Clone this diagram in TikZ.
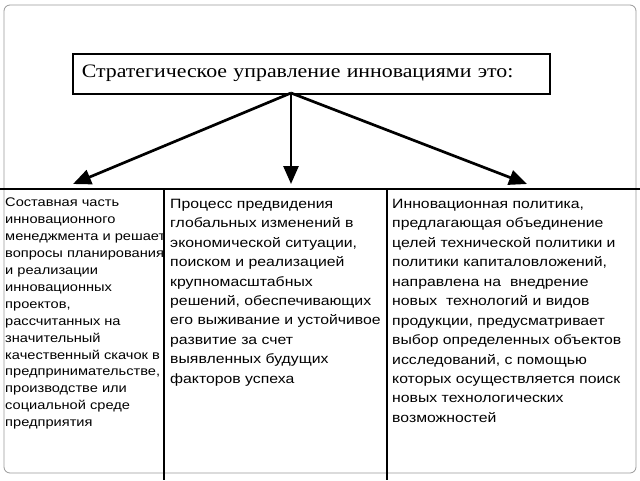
\documentclass[tikz,border=0pt]{standalone}
\usepackage{fontspec}
\setmainfont{Liberation Serif}
\setsansfont{Liberation Sans}
\newfontfamily\widesans[FakeStretch=1.17]{Liberation Sans}
\newfontfamily\wideserif[FakeStretch=1.15]{Liberation Serif}
\usetikzlibrary{arrows.meta}

\begin{document}
\begin{tikzpicture}[x=1pt, y=-1pt,
    titlebox/.style={draw, line width=1.5pt, anchor=north west, minimum width=477pt,
      minimum height=40pt, inner xsep=9pt, text width=459pt, align=left,
      font=\wideserif\fontsize{19}{23}\selectfont},
    coltext/.style={anchor=north west, inner sep=0pt, align=left},
    arr/.style={line width=2.7pt, -{Triangle[length=18pt, width=15pt]}}]

    \useasboundingbox (0,0) rectangle (640,480);

    % frame and columns
    \draw[gray!80, line width=0.8pt, rounded corners=6pt] (4,5) rectangle (636,473);
    \draw[line width=1.4pt] (0,189) -- (640,189);
    \foreach \x in {164,387}
      \draw[line width=1.4pt] (\x,189) -- (\x,480);

    \node[titlebox] (title) at (72,53) {Стратегическое управление инновациями это:};

    \coordinate (apex) at (291,93);
    \coordinate (tipA) at (73,184);
    \coordinate (tipB) at (291,184);
    \coordinate (tipC) at (527,184);
    \foreach \t in {tipA,tipB,tipC}
      \draw[arr] (apex) -- (\t);

    \node[coltext, font=\widesans\fontsize{12.5}{16.9}\selectfont] (colA) at (5,198)
      {Составная часть\\ инновационного\\ менеджмента и решает\\ вопросы планирования\\
       и реализации\\ инновационных\\ проектов,\\ рассчитанных на\\ значительный\\
       качественный скачок в\\ предпринимательстве,\\ производстве или\\
       социальной среде\\ предприятия};

    \node[coltext, font=\widesans\fontsize{13.5}{19.4}\selectfont] (colB) at (170,199)
      {Процесс предвидения\\ глобальных изменений в\\ экономической ситуации,\\
       поиском и реализацией\\ крупномасштабных\\ решений, обеспечивающих\\
       его выживание и устойчивое\\ развитие за счет\\ выявленных будущих\\ факторов успеха};

    \node[coltext, font=\widesans\fontsize{13.5}{19.45}\selectfont] (colC) at (392,199)
      {Инновационная политика,\\ предлагающая объединение\\ целей технической политики и\\
       политики капиталовложений,\\ направлена на~ внедрение\\ новых~ технологий и видов\\
       продукции, предусматривает\\ выбор определенных объектов\\ исследований, с помощью\\
       которых осуществляется поиск\\ новых технологических\\ возможностей};

\end{tikzpicture}
\end{document}
